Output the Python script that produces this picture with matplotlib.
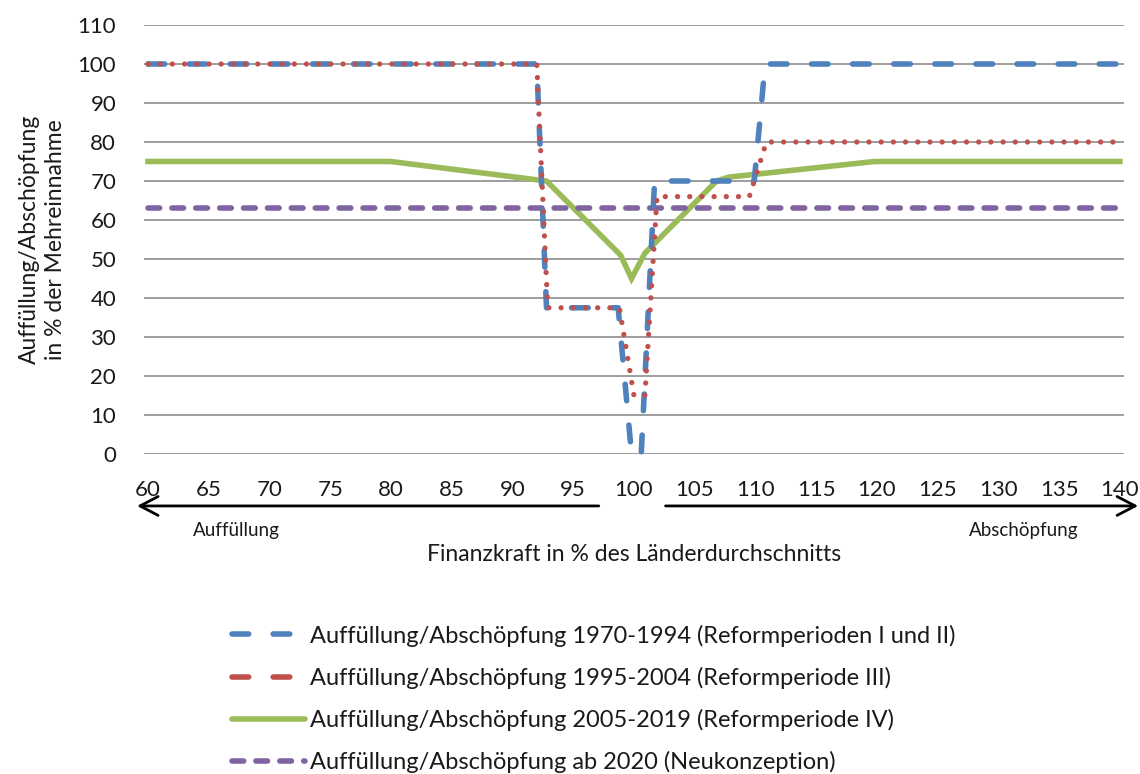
import matplotlib
matplotlib.use("Agg")
import matplotlib.pyplot as plt
from matplotlib.lines import Line2D

plt.rcParams['font.family'] = ['Lato', 'DejaVu Sans']

# data
x_1970 = [60, 92, 92.8, 98.7, 99.8, 100.6, 101.7, 109.9, 110.8, 140]
y_1970 = [100, 100, 37.5, 37.5, 0, 0, 70, 70, 100, 100]

x_1995 = [60, 92, 92.9, 98.8, 100.0, 100.9, 101.9, 109.5, 110.9, 140]
y_1995 = [100, 100, 37.5, 37.5, 15, 15, 66, 66, 80, 80]

x_2005 = [60, 80, 92.8, 98.9, 99.8, 100.9, 106.8, 107.8, 119.8, 140]
y_2005 = [75, 75, 70, 51, 45, 51.5, 70, 71, 75, 75]

x_2020 = [60, 140]
y_2020 = [63, 63]

labels = [
    "Auffüllung/Abschöpfung 1970-1994 (Reformperioden I und II)",
    "Auffüllung/Abschöpfung 1995-2004 (Reformperiode III)",
    "Auffüllung/Abschöpfung 2005-2019 (Reformperiode IV)",
    "Auffüllung/Abschöpfung ab 2020 (Neukonzeption)",
]
blue, red, green, purple = "#4F81BD", "#C0504D", "#9BBB59", "#8064A2"
txt = '#1a1a1a'
fs = 16

fig = plt.figure(figsize=(11.4, 7.74), dpi=100)
ax = fig.add_axes([0.1263, 0.4134, 0.8596, 0.5543])

ax.plot(x_1970, y_1970, color=blue, lw=4, dashes=(3.0, 4.4), dash_capstyle='round',
        solid_capstyle='round', clip_on=False, zorder=3)
ax.plot(x_1995, y_1995, color=red, lw=3.8, dashes=(0.01, 2.3), dash_capstyle='round',
        clip_on=False, zorder=4)
ax.plot(x_2005, y_2005, color=green, lw=4, solid_joinstyle='miter', zorder=2)
ax.plot(x_2020, y_2020, color=purple, lw=4, dashes=(2.1, 2.2), dash_capstyle='round', zorder=2)

ax.set_xlim(59.67, 140.33)
ax.set_ylim(0, 110)
ax.set_xticks(range(60, 141, 5))
ax.set_yticks(range(0, 111, 10))
ax.grid(axis='y', color='#8c8c8c', lw=1.2)
ax.set_axisbelow(True)
for s in ax.spines.values():
    s.set_visible(False)
ax.tick_params(length=0, labelsize=fs, colors=txt)
ax.tick_params(axis='x', pad=18.5)
ax.tick_params(axis='y', pad=20)

ax.set_ylabel("Auffüllung/Abschöpfung\nin % der Mehreinnahme", fontsize=16.5,
              color=txt, labelpad=8, linespacing=1.35)
ax.set_xlabel("Finanzkraft in % des Länderdurchschnitts", fontsize=16.5,
              color=txt, labelpad=32)

# direction arrows under the axis
arrow = dict(arrowstyle='->,head_length=1.3,head_width=0.68', lw=2, color='black',
             shrinkA=0, shrinkB=0, mutation_scale=10)
ax.annotate("", xy=(59.1, -0.121), xytext=(97.1, -0.121),
            xycoords=('data', 'axes fraction'), textcoords=('data', 'axes fraction'),
            arrowprops=arrow, annotation_clip=False)
ax.annotate("", xy=(141.5, -0.121), xytext=(102.6, -0.121),
            xycoords=('data', 'axes fraction'), textcoords=('data', 'axes fraction'),
            arrowprops=arrow, annotation_clip=False)
ax.text(67.3, -0.178, "Auffüllung", transform=ax.get_xaxis_transform(),
        ha='center', va='center', fontsize=13.5, color=txt)
ax.text(132.1, -0.178, "Abschöpfung", transform=ax.get_xaxis_transform(),
        ha='center', va='center', fontsize=13.5, color=txt)

handles = [
    Line2D([], [], color=blue, lw=4, dashes=(3.0, 4.4), dash_capstyle='round'),
    Line2D([], [], color=red, lw=4, dashes=(3.0, 4.4), dash_capstyle='round'),
    Line2D([], [], color=green, lw=4, solid_capstyle='round'),
    Line2D([], [], color=purple, lw=4, dashes=(2.1, 2.2), dash_capstyle='round'),
]
fig.legend(handles, labels, loc='upper left', bbox_to_anchor=(0.2035, 0.193),
           frameon=False, fontsize=17, handlelength=3.1, handletextpad=0.2,
           labelspacing=0.85, borderaxespad=0, borderpad=0, labelcolor=txt)

fig.savefig("out.png", dpi=100)
